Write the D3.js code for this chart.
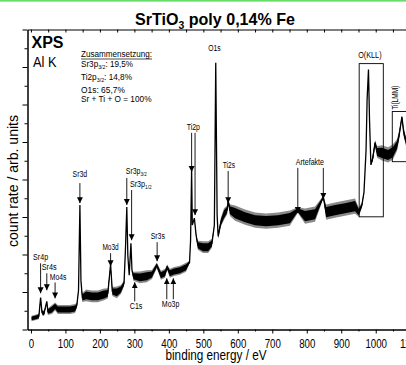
<!DOCTYPE html>
<html>
<head>
<meta charset="utf-8">
<script src="https://cdn.jsdelivr.net/npm/d3@7"></script>
<style>
  html, body { margin: 0; padding: 0; background: #fff; }
  svg { display: block; font-family: "Liberation Sans", Arial, sans-serif; }
</style>
</head>
<body>
<div id="chart"></div>
<script>
// spectrum: energy (eV), mean count rate, half width of the noise band
const energy = [2,12,23,28,32,38,46,49,61,70,78,96,113,128,133,138,142,145,149,160,177,194,212,223,231,236,249,261,270,274,278,281,285,290,293,297,316,336,351,365,377,389,395,403,415,432,450,460,463,466,468,474,479,484,499,514,525,532,536,540,543,551,560,569,572,577,592,621,650,682,717,751,774,795,824,848,856,882,911,940,951,960,966,972,975,979,982,986,992,998,1004,1018,1036,1050,1062,1068,1076,1081,1088,1100];
const counts = [0.59,0.64,0.70,1.71,0.91,0.86,1.50,0.96,1.07,1.23,1.07,1.07,1.07,1.12,1.28,2.09,6.64,2.62,1.71,1.82,1.77,1.77,1.87,1.93,3.48,2.03,1.98,2.14,2.46,4.23,6.53,3.96,2.89,4.60,3.16,2.84,2.78,2.84,2.94,3.42,2.89,3.00,3.32,3.00,3.10,3.16,3.32,3.59,4.76,8.51,5.57,5.94,5.03,4.49,4.39,4.39,4.60,5.57,14.23,6.10,4.98,5.73,6.15,6.37,6.85,6.37,6.21,5.99,5.83,5.78,5.83,5.94,6.37,6.05,6.15,7.06,6.26,6.37,6.47,6.58,6.26,6.64,7.33,9.58,12.25,13.86,11.18,8.78,9.20,9.95,9.47,9.42,9.31,9.47,9.85,10.38,11.34,10.54,10.01,9.90];
const noise = [0.10,0.10,0.10,0,0.10,0.10,0,0.12,0.16,0.14,0.16,0.16,0.16,0.16,0.10,0,0,0,0.16,0.21,0.21,0.21,0.21,0.18,0,0.16,0.21,0.16,0.10,0,0,0,0,0,0,0.16,0.21,0.21,0.16,0.10,0.16,0.16,0.10,0.16,0.16,0.16,0.16,0.05,0,0,0,0,0.05,0.16,0.21,0.21,0.16,0,0,0,0.10,0.16,0.21,0.16,0.05,0.21,0.27,0.27,0.27,0.27,0.27,0.27,0.10,0.27,0.27,0.05,0.27,0.27,0.27,0.27,0.16,0.10,0,0,0,0,0,0,0.16,0.10,0.21,0.27,0.27,0.27,0.21,0.16,0.05,0.16,0.16,0.16];

const xMajor = [0,100,200,300,400,500,600,700,800,900,1000,1100];

// peak labels: text, sub, energy, count (baseline), anchor
const peakNames  = ['Sr4p','Sr4s','Mo4s','Sr3d','Mo3d','Sr3p','Sr3p','C1s','Sr3s','Mo3p','Ti2p','Ti2s','O1s','Artefakte','O(KLL)'];
const peakSubs   = ['','','','','','3/2','1/2','','','','','','','',''];
const peakLabelE = [28,53,79,142,231,275,287,305,368,405,471,574,532,809,983];
const peakLabelV = [3.72,3.16,2.66,8.15,4.26,8.28,7.61,1.11,4.85,1.19,10.65,8.63,14.84,8.78,14.49];
const peakAnchor = ['middle','middle','middle','middle','middle','start','start','middle','middle','middle','middle','middle','middle','middle','middle'];

// arrows: energy, tail count, tip count
const arrowE    = [28,46,70,142,231,278,292,301,366,394,413,466,476,572,774,848];
const arrowFrom = [3.53,3.00,2.51,7.81,4.07,8.08,7.44,1.50,4.66,1.61,1.61,10.49,10.49,8.45,8.62,8.62];
const arrowTo   = [1.93,2.09,1.66,6.74,3.37,6.64,4.76,2.52,3.64,2.73,2.73,8.40,6.10,6.74,6.21,6.96];

// boxes around the Auger lines: e0, e1, v0, v1
const boxes = [[952,1022,6.01,14.18],[1048,1110,8.95,11.63]];

const composition = ['Sr3p|3/2|: 19,5%','Ti2p|3/2|: 14,8%','O1s: 65,7%','Sr + Ti + O = 100%'];

const width = 406, height = 365;
const svg = d3.select('#chart').append('svg').attr('width', width).attr('height', height);

svg.append('rect').attr('x', 0).attr('y', 0).attr('width', width).attr('height', 1.6).attr('fill', '#66dd66');

const x = d3.scaleLinear().domain([-10, 1100]).range([27.5, 410.2]);
const y = d3.scaleLinear().domain([0, 16]).range([329.5, 29.5]);

function squeeze(t, len) {
  t.attr('textLength', len).attr('lengthAdjust', 'spacingAndGlyphs');
}

svg.append('clipPath').attr('id', 'plot')
  .append('rect').attr('x', 28).attr('y', 30).attr('width', 400).attr('height', 300);

const data = energy.map((e, i) => ({ e, v: counts[i], n: noise[i] }));
const g = svg.append('g').attr('clip-path', 'url(#plot)');

g.append('path').datum(data)
  .attr('d', d3.area().x(d => x(d.e)).y0(d => y(d.v - d.n * 1.5)).y1(d => y(d.v + d.n * 1.5)))
  .attr('fill', '#8a8a8a');
g.append('path').datum(data)
  .attr('d', d3.area().x(d => x(d.e)).y0(d => y(d.v - d.n)).y1(d => y(d.v + d.n)))
  .attr('fill', '#000');
g.append('path').datum(data)
  .attr('d', d3.line().x(d => x(d.e)).y(d => y(d.v)))
  .attr('fill', 'none').attr('stroke', '#000').attr('stroke-width', 1.3);

// axes
const axisStyle = sel => {
  sel.select('.domain').attr('stroke', '#000');
  sel.selectAll('.tick line').attr('stroke', '#000');
  sel.attr('font-family', null);
};

svg.append('g').attr('transform', `translate(0,${y(0)})`)
  .call(d3.axisBottom(x).tickValues(d3.range(50, 1100, 100)).tickSize(2).tickSizeOuter(0).tickFormat(''))
  .call(axisStyle);
const xa = svg.append('g').attr('transform', `translate(0,${y(0)})`)
  .call(d3.axisBottom(x).tickValues(xMajor).tickSize(4).tickSizeOuter(0).tickPadding(5).tickFormat(d3.format('d')))
  .call(axisStyle);
xa.selectAll('text').attr('font-size', 13).attr('fill', '#000')
  .each(function (d) { squeeze(d3.select(this), String(d).length * 5.4); });

svg.append('g').attr('transform', `translate(0,${y(16)})`)
  .call(d3.axisTop(x).tickValues(d3.range(0, 1101, 50)).tickSize(-3).tickSizeOuter(0).tickFormat(''))
  .call(axisStyle);

svg.append('g').attr('transform', `translate(${x(-10)},0)`)
  .call(d3.axisLeft(y).tickValues(d3.range(1, 16, 2)).tickSize(3).tickSizeOuter(0).tickFormat(''))
  .call(axisStyle);
svg.append('g').attr('transform', `translate(${x(-10)},0)`)
  .call(d3.axisLeft(y).tickValues(d3.range(0, 17, 2)).tickSize(5).tickSizeOuter(0).tickFormat(''))
  .call(axisStyle);

// title and axis titles
const title = svg.append('text').attr('x', 215).attr('y', 25).attr('text-anchor', 'middle')
  .attr('font-size', 17).attr('font-weight', 'bold');
title.append('tspan').text('SrTiO');
title.append('tspan').text('3').attr('font-size', 11).attr('dy', 4);
title.append('tspan').text(' poly 0,14% Fe').attr('dy', -4);
squeeze(title, 160);

squeeze(svg.append('text').attr('x', 216).attr('y', 359.5).attr('text-anchor', 'middle')
  .attr('font-size', 14.5).text('binding energy / eV'), 101);

squeeze(svg.append('text').attr('transform', 'translate(18,181) rotate(-90)').attr('text-anchor', 'middle')
  .attr('font-size', 15).text('count rate / arb. units'), 132);

svg.append('text').attr('x', 31.5).attr('y', 48.3).attr('font-size', 16).attr('font-weight', 'bold').text('XPS');
squeeze(svg.append('text').attr('x', 33).attr('y', 66.5).attr('font-size', 15).text('Al K'), 23.5);

// composition block
const comp = svg.append('g').attr('font-size', 8.5);
squeeze(comp.append('text').attr('x', 81).attr('y', 57.3).text('Zusammensetzung:'), 71);
comp.append('line').attr('x1', 81).attr('x2', 152).attr('y1', 59).attr('y2', 59).attr('stroke', '#000').attr('stroke-width', 0.7);
const compY = [67.3, 80, 92.7, 102.3];
const compLen = [52, 51, 44, 70.5];
composition.forEach((s, i) => {
  const parts = s.split('|');
  const t = comp.append('text').attr('x', 81).attr('y', compY[i]);
  t.append('tspan').text(parts[0]);
  if (parts.length > 1) {
    t.append('tspan').text(parts[1]).attr('font-size', 5.5).attr('dy', 2);
    t.append('tspan').text(parts[2]).attr('dy', -2);
  }
  squeeze(t, compLen[i]);
});

// peak labels
const labelLen = [15, 15, 16.7, 14.6, 16.3, 21, 21.7, 12.7, 14.3, 17.6, 13.3, 12.3, 12.4, 28.3, 23.4];
peakNames.forEach((name, i) => {
  const t = svg.append('text').attr('x', x(peakLabelE[i])).attr('y', y(peakLabelV[i]))
    .attr('text-anchor', peakAnchor[i]).attr('font-size', 8.5);
  t.append('tspan').text(name);
  if (peakSubs[i]) t.append('tspan').text(peakSubs[i]).attr('font-size', 5.5).attr('dy', 2);
  squeeze(t, labelLen[i]);
});
squeeze(svg.append('text').attr('transform', `translate(${x(1066)},${y(12.36)}) rotate(-90)`)
  .attr('text-anchor', 'middle').attr('font-size', 8.5).text('Ti(LMM)'), 24);

// arrows
svg.append('defs').append('marker').attr('id', 'head')
  .attr('viewBox', '0 0 10 10').attr('refX', 10).attr('refY', 5)
  .attr('markerWidth', 6).attr('markerHeight', 7).attr('markerUnits', 'userSpaceOnUse')
  .attr('orient', 'auto')
  .append('path').attr('d', 'M0,0L10,5L0,10z').attr('fill', '#000');

arrowE.forEach((e, i) => {
  svg.append('line')
    .attr('x1', x(e)).attr('x2', x(e)).attr('y1', y(arrowFrom[i])).attr('y2', y(arrowTo[i]))
    .attr('stroke', '#000').attr('stroke-width', 0.9).attr('marker-end', 'url(#head)');
});

boxes.forEach(b => {
  svg.append('rect').attr('x', x(b[0])).attr('y', y(b[3]))
    .attr('width', x(b[1]) - x(b[0])).attr('height', y(b[2]) - y(b[3]))
    .attr('fill', 'none').attr('stroke', '#000').attr('stroke-width', 0.9);
});
</script>
</body>
</html>
